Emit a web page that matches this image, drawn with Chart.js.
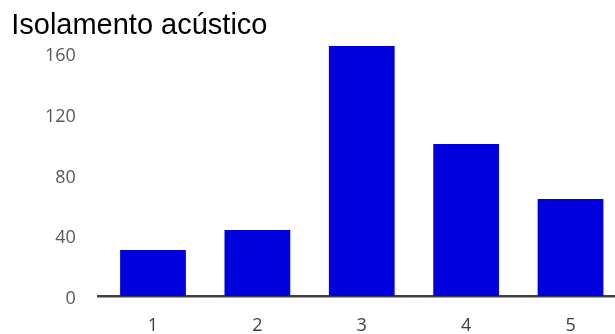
<!DOCTYPE html>
<html>
<head>
<meta charset="utf-8">
<script src="https://cdn.jsdelivr.net/npm/chart.js@4/dist/chart.umd.min.js"></script>
<style>
  html, body { margin: 0; padding: 0; background: #fff; }
  #wrap { width: 615px; height: 334px; }
</style>
</head>
<body>
<div id="wrap"><canvas id="myChart" width="615" height="334"></canvas></div>
<script>
const chartTitle = 'Isolamento acústico';
const categories = ['1', '2', '3', '4', '5'];
const values = [30.3, 43.4, 164.5, 100, 63.8];
const yTicks = [0, 40, 80, 120, 160];

const tickFont = { family: '"Open Sans"', size: 18 };

const drawChart = () => {
    let ctx = document.getElementById('myChart').getContext('2d');
    const points = categories.map((c, i) => ({ x: i + 1, y: values[i] }));
    new Chart(ctx, {
        type: 'bar',
        data: {
            datasets: [{
                data: points,
                backgroundColor: '#0000dd',
                borderWidth: 0,
                barPercentage: 0.63,
                categoryPercentage: 1
            }]
        },
        options: {
            responsive: false,
            animation: false,
            layout: { padding: { left: 11.2, right: 0, top: 0, bottom: 0 } },
            plugins: {
                legend: { display: false },
                tooltip: { enabled: false },
                title: {
                    display: true,
                    text: chartTitle,
                    align: 'start',
                    color: '#000',
                    font: { family: '"Liberation Sans"', size: 29, weight: 'normal', lineHeight: 1 },
                    padding: { top: 11.1, bottom: 0.5 }
                }
            },
            scales: {
                x: {
                    type: 'linear',
                    offset: false,
                    min: 0.476,
                    max: 5.426,
                    grid: { display: false, drawTicks: false, offset: false },
                    border: { display: true, color: '#404040', width: 2.4 },
                    ticks: {
                        color: '#404040',
                        font: tickFont,
                        padding: 19,
                        callback: (v) => categories[v - 1]
                    },
                    afterBuildTicks: (axis) => { axis.ticks = categories.map((c, i) => ({ value: i + 1 })); },
                    afterFit: (axis) => { axis.height = 38; }
                },
                y: {
                    min: 0,
                    max: 168,
                    grid: { display: false, drawTicks: false },
                    border: { display: false },
                    ticks: {
                        color: '#595959',
                        font: tickFont,
                        padding: 22.5,
                        labelOffset: 3
                    },
                    afterBuildTicks: (axis) => { axis.ticks = yTicks.map(v => ({ value: v })); },
                    afterFit: (axis) => { axis.width = 87.1; }
                }
            }
        }
    });
};

drawChart();
</script>
</body>
</html>
